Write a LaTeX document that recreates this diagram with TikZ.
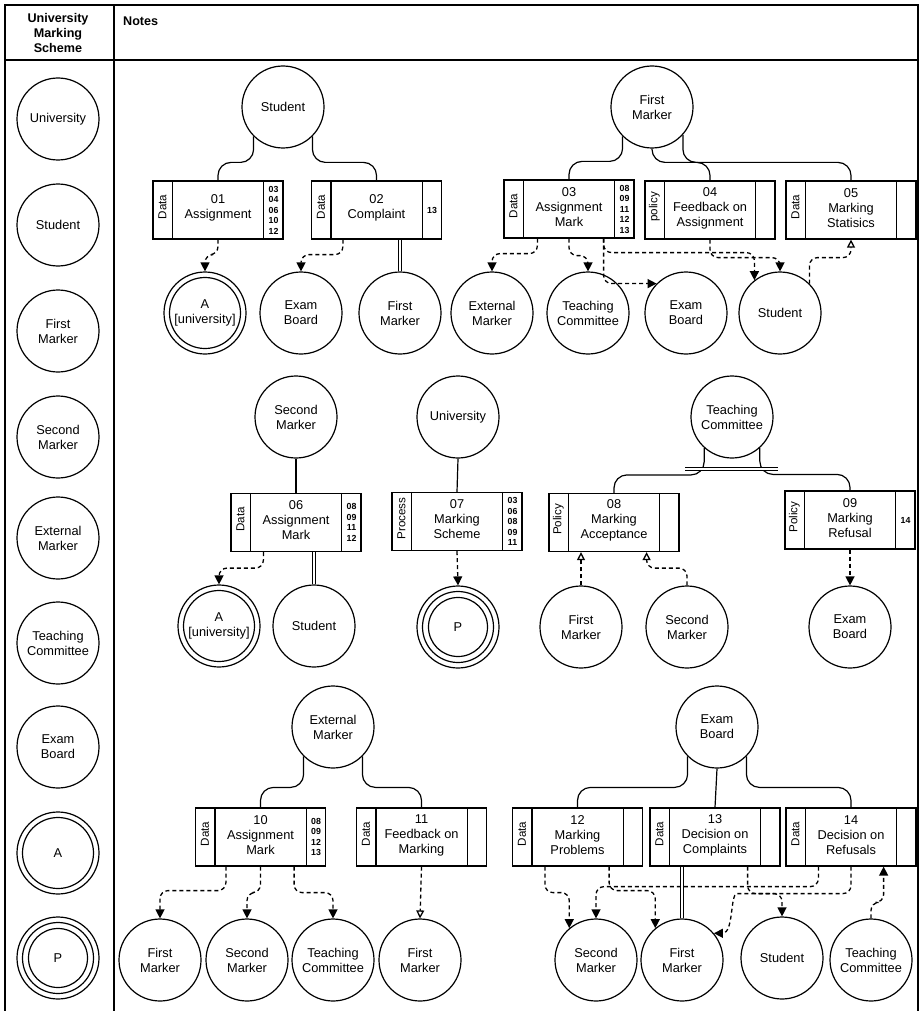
\documentclass[tikz,border=0pt]{standalone}
\usepackage{fontspec}
\setmainfont{Liberation Sans}
\usetikzlibrary{arrows.meta}
\tikzset{
  ent/.style={circle, draw, line width=1.2pt, minimum size=82pt, inner sep=0pt, align=center, font=\fontsize{12.8pt}{15pt}\selectfont},
  nbox/.style={draw, line width=1.2pt, minimum width=130pt, minimum height=58pt, inner sep=0pt},
  typelbl/.style={rotate=90, font=\fontsize{11.6pt}{13pt}\selectfont, inner sep=0pt},
  boxtxt/.style={align=center, font=\fontsize{12.8pt}{15pt}\selectfont, inner sep=0pt},
  nums/.style={align=center, font=\bfseries\fontsize{8.8pt}{10.5pt}\selectfont, inner sep=0pt},
  hdr/.style={align=center, font=\bfseries\fontsize{12.6pt}{15pt}\selectfont, inner sep=0pt},
  link/.style={line width=1.2pt, rounded corners=13pt},
  plain/.style={line width=1.2pt},
  dbl/.style={double, double distance=2.5pt, line width=1.1pt},
  darr/.style={line width=1.3pt, dash pattern=on 4pt off 3pt, rounded corners=8pt, -{Triangle[width=9pt,length=9pt]}},
  oarr/.style={line width=1.3pt, dash pattern=on 4pt off 3pt, rounded corners=8pt, -{Triangle[open,width=8pt,length=8pt]}},
  frame/.style={line width=1.5pt}
}
\newcommand\notebx[6]{%
  \node[nbox] (#1) at (#2,#3) {};
  \draw[plain] ([xshift=20pt]#1.north west) -- ([xshift=20pt]#1.south west);
  \draw[plain] ([xshift=-20pt]#1.north east) -- ([xshift=-20pt]#1.south east);
  \node[typelbl] (#1-t) at ([xshift=10pt,yshift=3pt]#1.west) {#4};
  \node[boxtxt] (#1-m) at ([yshift=2pt]#1.center) {#5};
  \node[nums] (#1-n) at ([xshift=-10pt]#1.east) {#6};
}
\newcommand\ringA[1]{\draw[plain] (#1.center) circle[radius=35.5pt];}
\newcommand\ringP[1]{\draw[plain] (#1.center) circle[radius=35.5pt]; \draw[plain] (#1.center) circle[radius=29.5pt];}
\begin{document}
\begin{tikzpicture}[x=1pt,y=-1pt]
\useasboundingbox (0,0) rectangle (920,1011);
% frame
\draw[frame] (5,1011) -- (5,5) -- (918,5) -- (918,1011);
\draw[frame] (5,60) -- (918,60);
\draw[frame] (114,5) -- (114,1011);
\node[hdr] (title) at (58,33) {University\\Marking\\Scheme};
\node[hdr, anchor=west] (notes) at (123,21) {Notes};
% legend column
\node[ent] (l1) at (58,119) {University};
\node[ent] (l2) at (58,225) {Student};
\node[ent] (l3) at (58,331) {First\\Marker};
\node[ent] (l4) at (58,437) {Second\\Marker};
\node[ent] (l5) at (58,538) {External\\Marker};
\node[ent] (l6) at (58,643) {Teaching\\Committee};
\node[ent] (l7) at (58,747) {Exam\\Board};
\node[ent] (l8) at (58,853) {A}; \ringA{l8}
\node[ent] (l9) at (58,958) {P}; \ringP{l9}

% ===== group 1: Student
\node[ent] (stu1) at (283,107) {Student};
\notebx{b01}{218}{210}{Data}{01\\Assignment}{03\\04\\06\\10\\12}
\notebx{b02}{376.5}{210}{Data}{02\\Complaint}{13}
\node[ent] (a1) at (205,313) {A\\{[university]}}; \ringA{a1}
\node[ent] (eb1) at (301,313) {Exam\\Board};
\node[ent] (fm1) at (400,313) {First\\Marker};
\draw[link] (stu1.225) |- ([yshift=18pt]b01.north) -- (b01.north);
\draw[link] (stu1.315) |- ([yshift=18pt]b02.north) -- (b02.north);
\draw[darr] (b01.south) -- ++(0,15) -| (a1.north);
\draw[darr] ([xshift=32pt]b02.south west) -- ++(0,15) -| (eb1.north);
\draw[dbl] (fm1.north) -- (fm1.north |- b02.south);

% ===== group 2: First Marker
\node[ent] (fm2) at (652,107) {First\\Marker};
\notebx{b03}{569}{209}{Data}{03\\Assignment\\Mark}{08\\09\\11\\12\\13}
\notebx{b04}{710}{210}{policy}{04\\Feedback on\\Assignment}{}
\notebx{b05}{851}{210}{Data}{05\\Marking\\Statisics}{}
\node[ent] (em2) at (492,313) {External\\Marker};
\node[ent] (tc2) at (588,313) {Teaching\\Committee};
\node[ent] (eb2) at (686,313) {Exam\\Board};
\node[ent] (stu2) at (780,313) {Student};
\draw[link] (fm2.225) |- ([yshift=18pt]b03.north) -- (b03.north);
\draw[link] (fm2.south) |- ([yshift=18pt]b04.north) -- (b04.north);
\draw[link] (fm2.318) |- ([yshift=18pt]b05.north) -- (b05.north);
\draw[darr] ([xshift=34pt]b03.south west) -- ++(0,15) -| (em2.north);
\draw[darr] (b03.south) -- ++(0,17) -| (tc2.north);
\draw[darr] ([xshift=-31pt]b03.south east) |- (eb2.135);
\draw[darr] ([xshift=-31pt]b03.south east) -- ++(0,14) -| (stu2.128);
\draw[darr] (b04.south) -- ++(0,18) -| (stu2.north);
\draw[oarr] (stu2.45) |- ([yshift=-18pt]b05.south) -- (b05.south);

% ===== group 3: Second Marker
\node[ent] (sm3) at (296,417) {Second\\Marker};
\notebx{b06}{296}{522.5}{Data}{06\\Assignment\\Mark}{08\\09\\11\\12}
\node[ent] (a3) at (219,626) {A\\{[university]}}; \ringA{a3}
\node[ent] (stu3) at (314,626) {Student};
\draw[plain] (sm3.south) -- (b06.north);
\draw[darr] ([xshift=33pt]b06.south west) -- ++(0,16) -| (a3.north);
\draw[dbl] (stu3.north) -- (stu3.north |- b06.south);

% ===== group 4: University
\node[ent] (uni4) at (458,417) {University};
\notebx{b07}{457}{521.5}{Process}{07\\Marking\\Scheme}{03\\06\\08\\09\\11}
\node[ent] (p4) at (458,627) {P}; \ringP{p4}
\draw[plain] (uni4.south) -- (b07.north);
\draw[darr] (b07.south) -- (p4.north);

% ===== group 5: Teaching Committee
\node[ent] (tc5) at (732,417) {Teaching\\Committee};
\notebx{b08}{614}{522.5}{Policy}{08\\Marking\\Acceptance}{}
\notebx{b09}{850}{520}{Policy}{09\\Marking\\Refusal}{14}
\node[ent] (fm5) at (581,627) {First\\Marker};
\node[ent] (sm5) at (687,627) {Second\\Marker};
\node[ent] (eb5) at (850,627) {Exam\\Board};
\draw[link] (tc5.228) |- ([yshift=18pt]b08.north) -- (b08.north);
\draw[link] (tc5.312) |- ([yshift=16pt]b09.north) -- (b09.north);
\draw[dbl] ([xshift=-47pt,yshift=-52pt]tc5.center) -- ([xshift=46pt,yshift=-52pt]tc5.center);
\draw[oarr] (fm5.north) -- (fm5.north |- b08.south);
\draw[oarr] (sm5.north) |- ([xshift=-33pt,yshift=-16pt]b08.south east) -- ([xshift=-33pt]b08.south east);
\draw[darr] (b09.south) -- (eb5.north);

% ===== group 6: External Marker
\node[ent] (em6) at (333,727) {External\\Marker};
\notebx{b10}{260.5}{837}{Data}{10\\Assignment\\Mark}{08\\09\\12\\13}
\notebx{b11}{421.5}{837}{Data}{11\\Feedback on\\Marking}{}
\node[ent] (fm6) at (160,960) {First\\Marker};
\node[ent] (sm6) at (247,960) {Second\\Marker};
\node[ent] (tc6) at (333,960) {Teaching\\Committee};
\node[ent] (fm6b) at (420,960) {First\\Marker};
\draw[link] (em6.225) |- ([yshift=20pt]b10.north) -- (b10.north);
\draw[link] (em6.315) |- ([yshift=20pt]b11.north) -- (b11.north);
\draw[darr] ([xshift=31pt]b10.south west) -- ++(0,24) -| (fm6.north);
\draw[darr] (b10.south) -- ++(0,26) -| (sm6.north);
\draw[darr] ([xshift=-32pt]b10.south east) -- ++(0,26) -| (tc6.north);
\draw[oarr] (b11.south) -- (fm6b.north);

% ===== group 7: Exam Board
\node[ent] (eb7) at (717,727) {Exam\\Board};
\notebx{b12}{577.5}{837}{Data}{12\\Marking\\Problems}{}
\notebx{b13}{715}{837}{Data}{13\\Decision on\\Complaints}{}
\notebx{b14}{851}{837}{Data}{14\\Decision on\\Refusals}{}
\node[ent] (sm7) at (596,960) {Second\\Marker};
\node[ent] (fm7) at (682,960) {First\\Marker};
\node[ent] (stu7) at (782,958) {Student};
\node[ent] (tc7) at (871,960) {Teaching\\Committee};
\draw[link] (eb7.225) |- ([yshift=20pt]b12.north) -- (b12.north);
\draw[plain] (eb7.south) -- (b13.north);
\draw[link] (eb7.315) |- ([yshift=20pt]b14.north) -- (b14.north);
\draw[darr] ([xshift=33pt]b12.south west) -- ++(0,26) -| (sm7.130);
\draw[darr] ([xshift=-34pt]b12.south east) -- ++(0,24) -| (fm7.130);
\draw[dbl] (fm7.north) -- (fm7.north |- b13.south);
\draw[darr] ([xshift=-33pt]b13.south east) -- ++(0,27) -| (stu7.north);
\draw[darr] ([xshift=33pt]b14.south west) -- ++(0,20) -| (sm7.north);
\draw[darr] (b14.south) |- ([xshift=-106pt,yshift=-27pt]b14.south) .. controls +(-15,0) and +(20,0) .. (fm7.40);
\draw[darr] (tc7.north) -- ++(0,-16) -| ([xshift=-33pt]b14.south east);
\end{tikzpicture}
\end{document}
